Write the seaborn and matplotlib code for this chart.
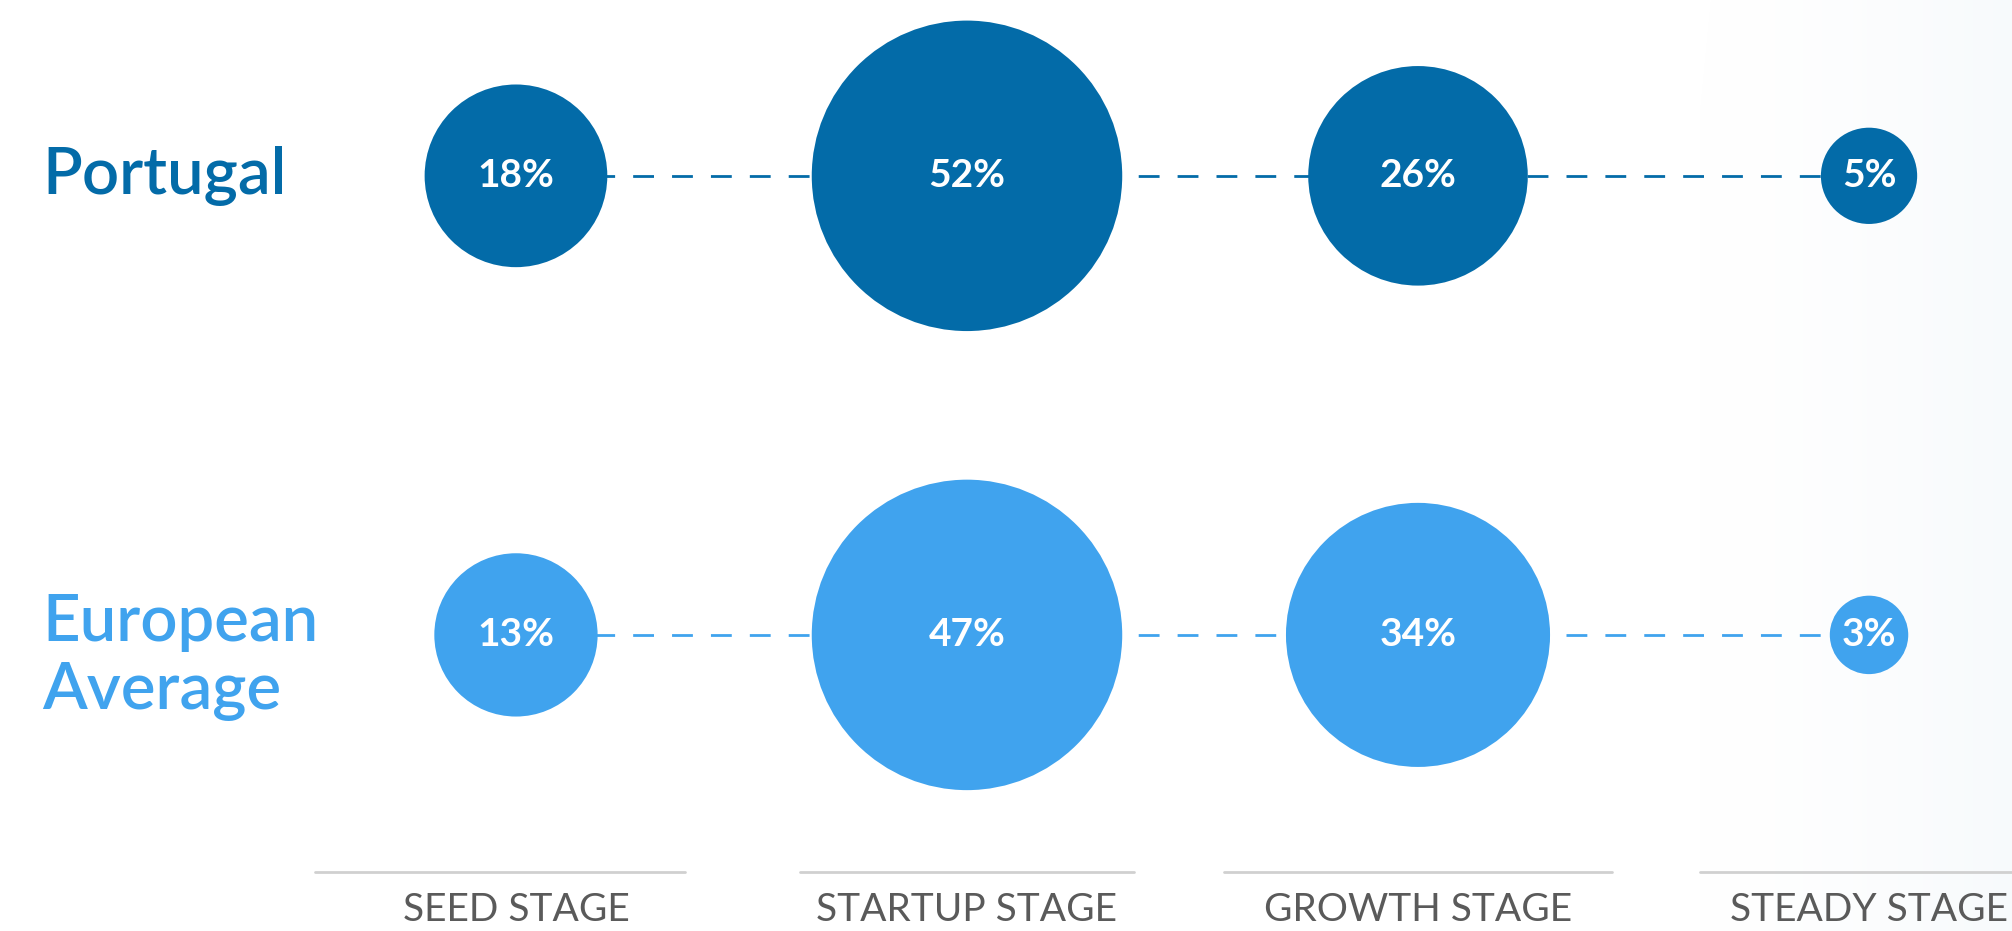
import matplotlib.pyplot as plt
import seaborn as sns
import numpy as np
import pandas as pd

# chart data
stages = ['SEED STAGE', 'STARTUP STAGE', 'GROWTH STAGE', 'STEADY STAGE']
groups = ['Portugal', 'European Average']
portugal = [18, 52, 26, 5]
europe = [13, 47, 34, 3]

DARK = '#036BA8'
LIGHT = '#40A3EE'
DPI = 100

sns.set_theme(style='white')
plt.rcParams['font.family'] = ['Lato', 'DejaVu Sans']

df = pd.DataFrame({
    'stage': np.tile(np.arange(len(stages)), 2),
    'row': [1] * len(portugal) + [0] * len(europe),
    'group': [groups[0]] * len(portugal) + [groups[1]] * len(europe),
    'value': portugal + europe,
})

# area proportional to value, each row scaled to its own max
max_r_px = 121 * 1.283
max_area = (2 * max_r_px * 72 / DPI) ** 2
df['area'] = df['value'] / df.groupby('group')['value'].transform('max') * max_area

fig = plt.figure(figsize=(2012 / DPI, 931 / DPI), dpi=DPI)
ax = fig.add_axes([0, 0, 1, 1])
ax.set_xlim(-1.144, 3.317)
ax.set_ylim(-0.645, 1.383)

# faint shaded area on the right
bg = np.linspace(0, 1, 200)[None, :] ** 1.5
ax.imshow(np.dstack([np.full_like(bg, 0.96), np.full_like(bg, 0.975), np.full_like(bg, 0.985), bg * 0.7]),
          extent=[2.6, 3.317, -0.645, 1.383], aspect='auto', zorder=0)
ax.fill_betweenx([-0.645, 1.383], [2.45, 2.65], [2.6, 2.6], color='white', zorder=0, lw=0)

# dashed connectors
for grp, color in zip(groups, [DARK, LIGHT]):
    sub = df[df['group'] == grp]
    ax.plot(sub['stage'], sub['row'], color=color, lw=2, dashes=(7.5, 6.5), zorder=1)

sns.scatterplot(data=df, x='stage', y='row', hue='group', palette=[DARK, LIGHT],
                s=df['area'].values, linewidth=0, alpha=1, legend=False, ax=ax, zorder=2)

for _, r in df.iterrows():
    ax.text(r['stage'], r['row'], f"{r['value']}%", color='white', fontsize=28,
            fontweight='bold', ha='center', va='center', zorder=3)

# row labels (figure coords)
fig.text(0.021, 1 - 176 / 931, 'Portugal', color=DARK,
         fontsize=47, fontweight='semibold', ha='left', va='center')
fig.text(0.021, 1 - 657 / 931, 'European\nAverage', color=LIGHT,
         fontsize=47, fontweight='semibold', ha='left', va='center', linespacing=1.2)

# stage axis lines and labels
half = [0.41, 0.37, 0.43, 0.375]
shift = [-0.035, 0, 0, 0]
for i, name in enumerate(stages):
    ax.plot([i - half[i] + shift[i], i + half[i] + shift[i]],
            [-0.516, -0.516], color='#d0d0d0', lw=2, zorder=1)
    ax.text(i, -0.60, name, color='#5a5a5a', fontsize=28,
            ha='center', va='center')

ax.axis('off')
fig.savefig('out.png', dpi=DPI, facecolor='white')
